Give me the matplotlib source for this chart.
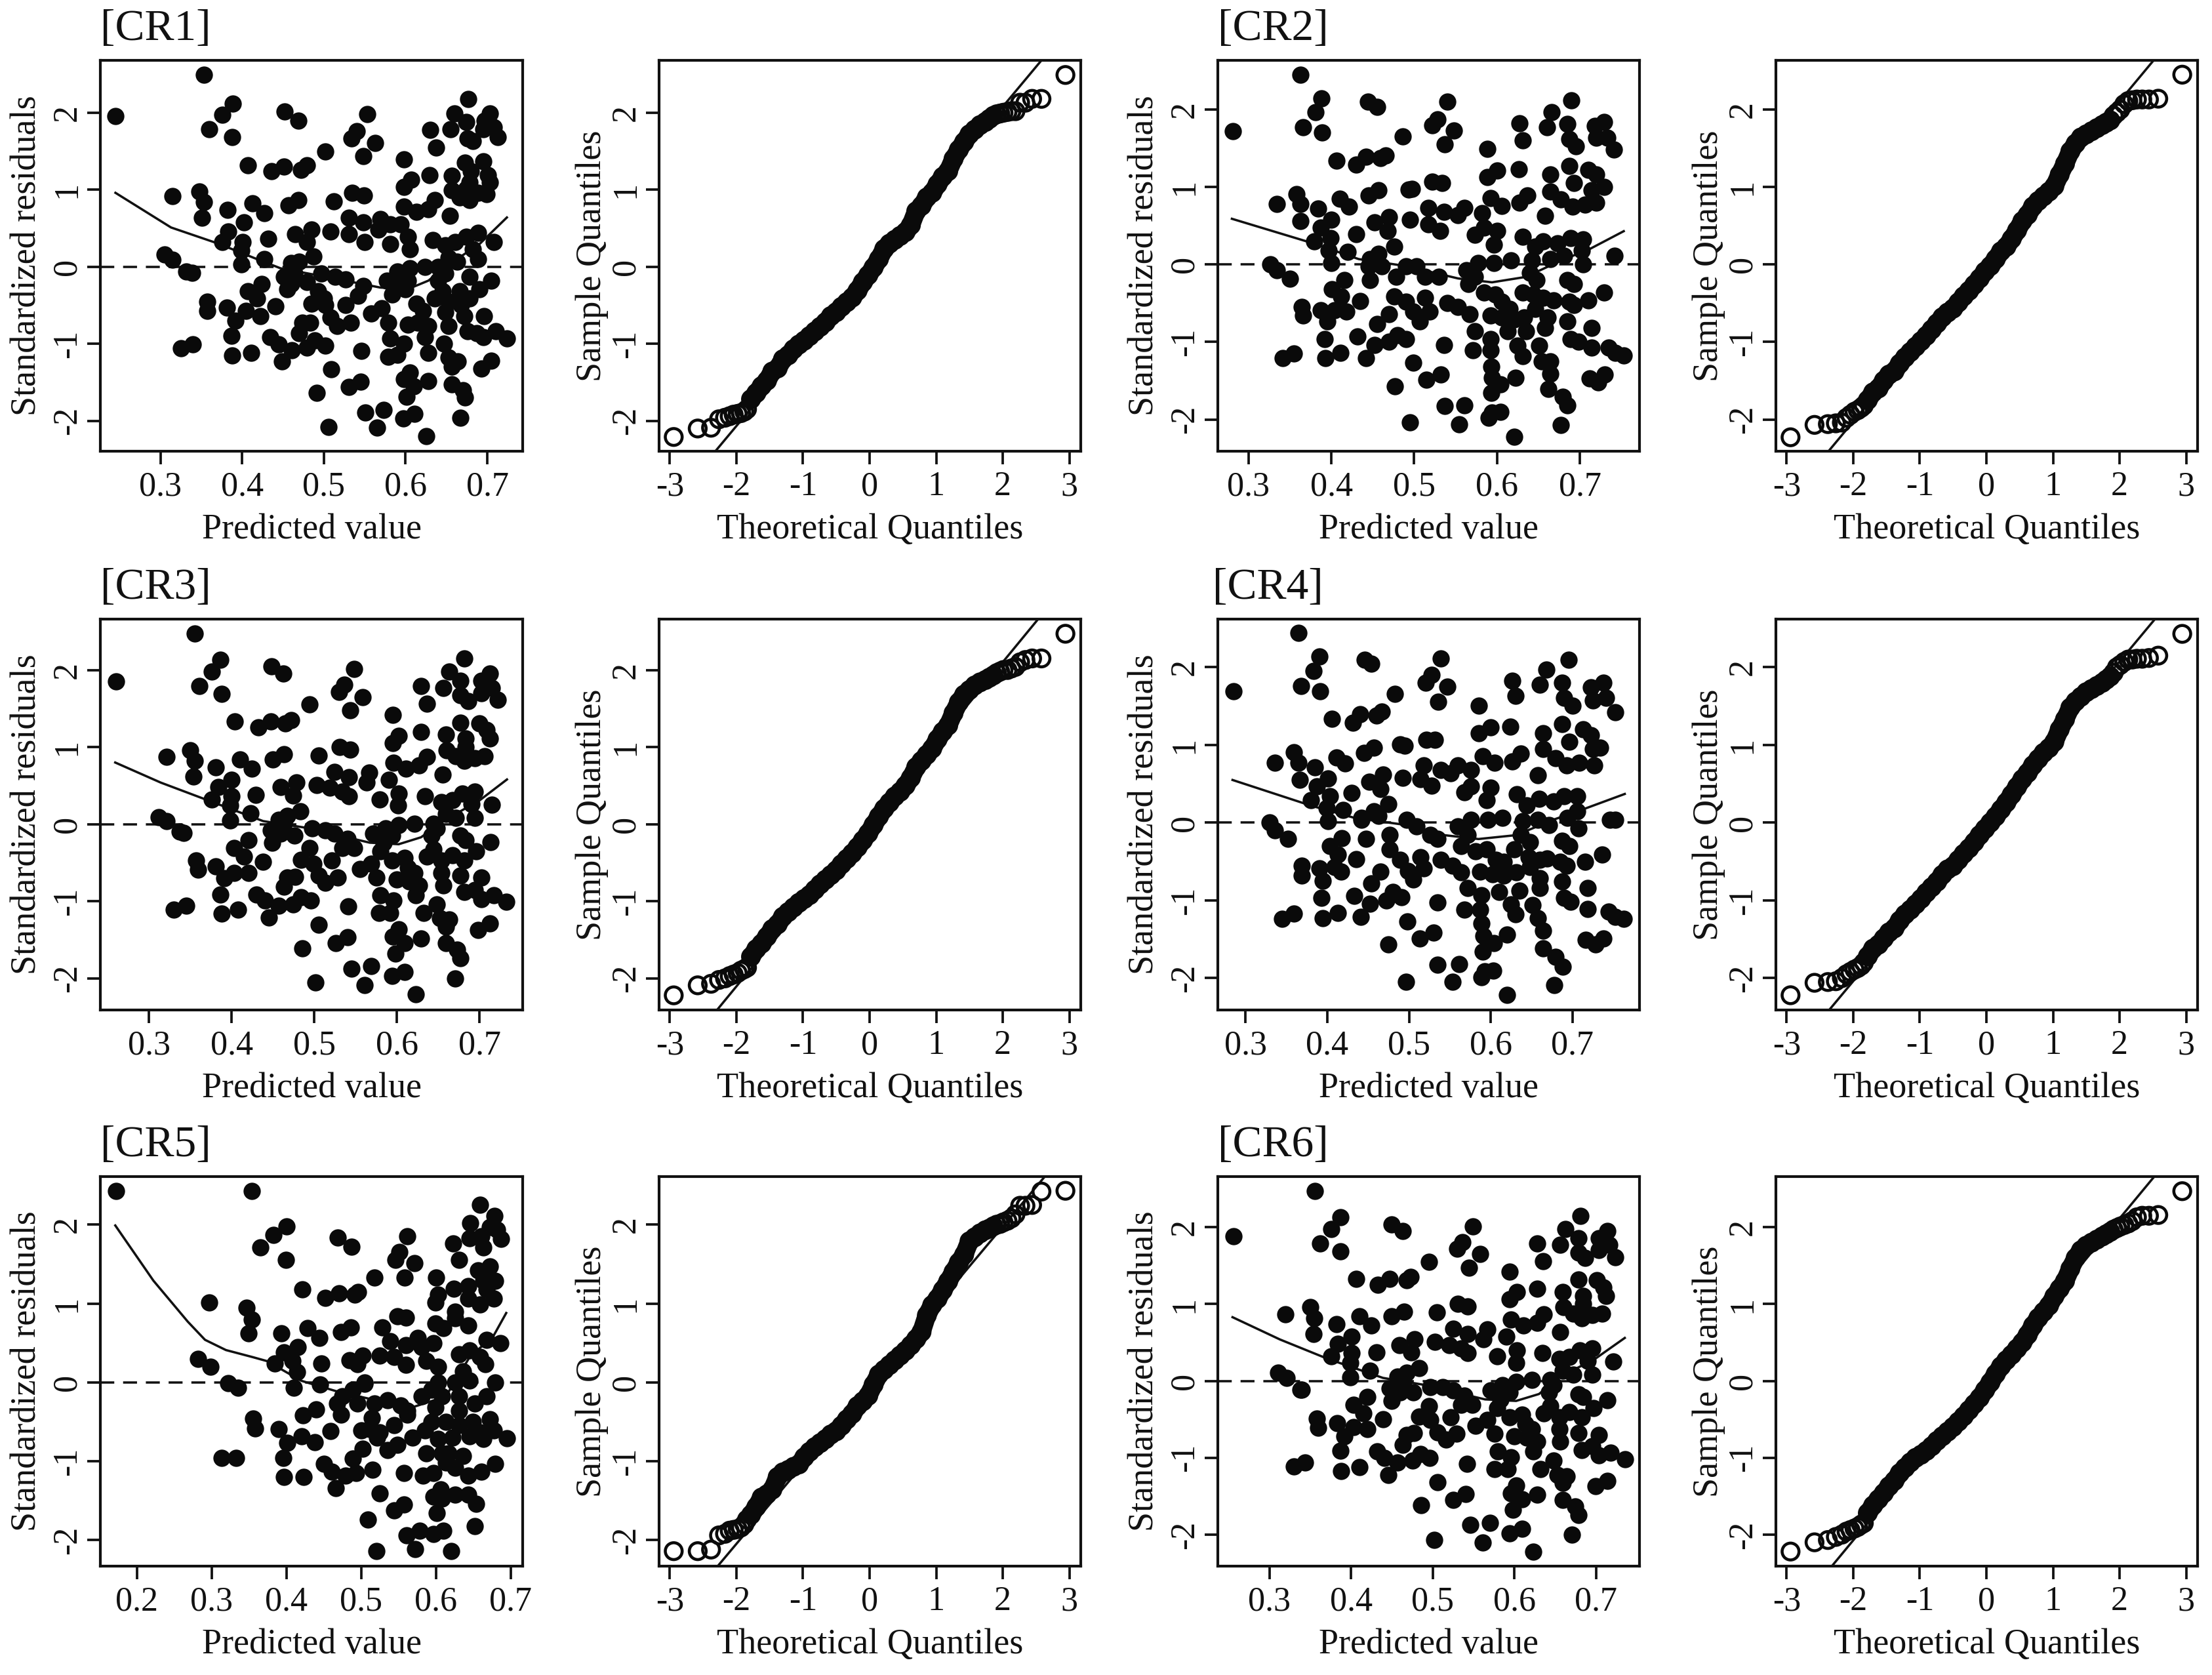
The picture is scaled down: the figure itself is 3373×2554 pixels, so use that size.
import matplotlib
matplotlib.use("Agg")
import matplotlib.pyplot as plt

plt.rcParams['font.family'] = ['Liberation Serif', 'DejaVu Serif']
plt.rcParams['axes.unicode_minus'] = False

# residuals vs predicted (predicted, residual)
cr1_pts = [(.245,1.96),(.353,2.49),(.389,2.12),(.376,1.97),(.36,1.79),(.388,1.68),(.452,2.02),(.469,1.90),(.553,1.98),(.54,1.76),
(.534,1.67),(.563,1.61),(.548,1.44),(.502,1.50),(.407,1.32),(.436,1.24),(.451,1.30),(.472,1.26),(.479,1.32),(.348,.98),
(.315,.92),(.353,.84),(.351,.64),(.382,.74),(.413,.82),(.427,.70),(.457,.80),(.469,.87),(.512,.85),(.535,.96),
(.549,.93),(.598,1.39),(.607,1.13),(.598,1.04),(.629,1.19),(.63,1.78),(.637,1.55),(.655,1.79),(.66,1.99),(.674,1.88),
(.677,2.18),(.676,1.67),(.682,1.63),(.703,1.99),(.697,1.90),(.695,1.79),(.708,1.81),(.713,1.68),(.673,1.35),(.695,1.37),
(.657,1.18),(.701,1.19),(.703,1.10),(.68,1.24),(.678,1.10),(.674,1.01),(.657,.99),(.666,.90),(.678,.87),(.699,.94),
(.689,.96),(.598,.78),(.613,.71),(.628,.75),(.636,.87),(.654,.66),(.531,.64),(.548,.58),(.569,.62),(.581,.55),
(.594,.55),(.567,.48),(.531,.42),(.508,.46),(.55,.32),(.581,.30),(.603,.39),(.605,.23),(.633,.35),(.708,.32),
(.402,.58),(.383,.46),(.485,.48),(.465,.42),(.479,.32),(.432,.36),(.376,.32),(.401,.32),(.399,.21),(.399,.03),
(.427,.10),(.487,.13),(.47,.07),(.46,.05),(.305,.16),(.315,.09),(.332,-.06),(.339,-.08),(.649,.28),(.661,.32),
(.674,.39),(.689,.44),(.682,.23),(.689,.10),(.653,.12),(.64,0),(.663,.07),(.624,0),(.605,-.02),(.59,-.06),
(.577,-.18),(.59,-.22),(.603,-.18),(.584,-.36),(.6,-.29),(.64,-.18),(.649,-.09),(.645,-.32),(.636,-.41),(.653,-.45),
(.666,-.32),(.678,-.13),(.678,-.41),(.69,-.29),(.705,-.18),(.668,-.5),(.672,-.64),(.649,-.59),(.653,-.77),(.696,-.64),
(.676,-.84),(.695,-.91),(.71,-.84),(.724,-.93),(.687,-.86),(.613,-.48),(.621,-.57),(.603,-.75),(.615,-.73),(.628,-.77),
(.579,-.73),(.581,-.93),(.598,-1),(.59,-1.14),(.579,-1.17),(.558,-.61),(.571,-.54),(.624,-.91),(.628,-1.12),(.647,-1),
(.653,-1.18),(.664,-1.23),(.657,-1.3),(.693,-1.32),(.705,-1.22),(.628,-1.48),(.598,-1.46),(.605,-1.37),(.61,-1.55),(.601,-1.69),
(.657,-1.53),(.67,-1.6),(.673,-1.70),(.667,-1.96),(.597,-1.97),(.611,-1.91),(.573,-1.86),(.551,-1.89),(.565,-2.09),(.506,-2.08),
(.625,-2.2),(.491,-1.64),(.531,-1.56),(.545,-1.49),(.509,-1.33),(.546,-1.09),(.325,-1.06),(.34,-1.01),(.387,-.9),(.388,-1.15),
(.411,-1.12),(.434,-.91),(.445,-1.01),(.449,-1.23),(.461,-1.08),(.479,-1.05),(.489,-.96),(.502,-1.02),(.47,-.86),(.474,-.73),
(.483,-.73),(.357,-.45),(.357,-.57),(.381,-.53),(.392,-.7),(.405,-.57),(.422,-.64),(.407,-.32),(.418,-.41),(.424,-.22),
(.441,-.51),(.451,-.13),(.455,-.29),(.464,-.09),(.479,-.2),(.46,-.22),(.497,-.09),(.514,-.13),(.527,-.16),(.548,-.25),
(.542,-.38),(.493,-.32),(.485,-.48),(.502,-.5),(.508,-.66),(.516,-.77),(.527,-.5),(.533,-.73),(.5,-.41)]

cr2_pts = [(.281,1.72),(.363,2.45),(.388,2.14),(.381,1.97),(.366,1.77),(.389,1.70),(.444,2.10),(.455,2.03),(.54,2.10),(.528,1.87),
(.522,1.80),(.548,1.73),(.537,1.55),(.486,1.65),(.406,1.34),(.43,1.29),(.442,1.39),(.459,1.37),(.466,1.41),(.358,.91),
(.363,.78),(.334,.78),(.363,.56),(.384,.72),(.41,.85),(.421,.75),(.445,.89),(.457,.96),(.493,.97),(.497,.98),
(.522,1.07),(.534,1.05),(.588,1.49),(.627,1.82),(.631,1.60),(.626,1.23),(.6,1.21),(.588,1.13),(.66,1.77),(.666,1.97),
(.685,1.81),(.69,2.12),(.687,1.62),(.695,1.53),(.729,1.84),(.718,1.79),(.72,1.64),(.733,1.64),(.741,1.48),(.664,1.16),
(.687,1.27),(.71,1.22),(.72,1.16),(.729,1.0),(.693,1.05),(.664,.94),(.677,.84),(.691,.75),(.706,.77),(.72,.80),
(.714,.96),(.592,.86),(.606,.76),(.627,.80),(.637,.89),(.658,.63),(.517,.73),(.536,.68),(.553,.64),(.561,.73),
(.582,.66),(.517,.52),(.531,.43),(.495,.58),(.584,.48),(.573,.38),(.6,.43),(.596,.26),(.631,.36),(.742,.11),
(.4,.58),(.387,.48),(.452,.54),(.47,.61),(.468,.43),(.43,.39),(.379,.30),(.399,.34),(.397,.18),(.4,.02),
(.42,.16),(.476,.23),(.457,.14),(.447,.07),(.326,0),(.334,-.07),(.35,-.18),(.656,.30),(.646,.23),(.673,.27),
(.689,.34),(.704,.32),(.702,.18),(.704,0),(.681,.11),(.664,.07),(.642,.05),(.617,.05),(.596,.02),(.577,.02),
(.563,-.07),(.573,-.16),(.565,-.25),(.584,-.36),(.598,-.39),(.64,-.11),(.648,-.2),(.631,-.36),(.644,-.39),(.656,-.43),
(.668,-.46),(.685,-.2),(.693,-.25),(.687,-.48),(.693,-.52),(.71,-.46),(.729,-.36),(.646,-.57),(.661,-.68),(.658,-.82),
(.685,-.73),(.714,-.82),(.689,-.96),(.698,-1),(.714,-1.07),(.735,-1.07),(.753,-1.17),(.743,-1.14),(.606,-.48),(.615,-.57),
(.592,-.66),(.606,-.68),(.621,-.71),(.633,-.68),(.613,-.86),(.635,-.86),(.573,-.86),(.592,-.96),(.571,-1.11),(.592,-1.11),
(.625,-1.05),(.631,-1.18),(.651,-1.05),(.654,-1.25),(.664,-1.25),(.664,-1.41),(.593,-1.32),(.594,-1.46),(.604,-1.55),(.593,-1.66),
(.622,-1.46),(.662,-1.61),(.679,-1.71),(.685,-1.82),(.677,-2.07),(.59,-1.98),(.604,-1.90),(.594,-1.91),(.561,-1.82),(.537,-1.83),
(.554,-2.06),(.495,-2.04),(.621,-2.22),(.477,-1.57),(.515,-1.49),(.532,-1.42),(.499,-1.27),(.536,-1.04),(.712,-1.47),(.722,-1.52),
(.73,-1.42),(.341,-1.21),(.355,-1.15),(.392,-.96),(.393,-1.21),(.411,-1.14),(.432,-.93),(.452,-1.04),(.442,-1.21),(.47,-1),
(.48,-.91),(.49,-.96),(.455,-.77),(.47,-.64),(.364,-.55),(.366,-.66),(.387,-.59),(.395,-.73),(.404,-.59),(.418,-.61),
(.401,-.32),(.416,-.2),(.412,-.41),(.435,-.47),(.445,-.02),(.447,-.2),(.461,-.02),(.478,-.16),(.476,-.41),(.49,-.02),
(.503,-.02),(.513,-.16),(.53,-.16),(.49,-.48),(.499,-.61),(.507,-.73),(.519,-.61),(.513,-.43),(.54,-.5),(.553,-.55),(.567,-.64)]

cr3_pts = [(.26,1.85),(.355,2.47),(.386,2.13),(.376,1.98),(.361,1.79),(.388,1.69),(.448,2.05),(.462,1.95),(.548,2.01),(.536,1.81),
(.53,1.72),(.558,1.65),(.543,1.48),(.494,1.55),(.404,1.33),(.432,1.26),(.447,1.33),(.465,1.31),(.472,1.35),(.35,.96),
(.355,.82),(.321,.87),(.354,.62),(.381,.74),(.41,.84),(.424,.72),(.45,.84),(.463,.91),(.505,.89),(.531,1.0),
(.543,.97),(.595,1.42),(.602,1.15),(.595,1.05),(.629,1.2),(.629,1.79),(.636,1.56),(.656,1.77),(.663,1.98),(.677,1.86),
(.681,2.15),(.677,1.67),(.686,1.6),(.712,1.95),(.702,1.86),(.702,1.7),(.715,1.77),(.722,1.61),(.677,1.32),(.7,1.31),
(.659,1.16),(.708,1.22),(.712,1.11),(.683,1.11),(.683,1.0),(.66,.96),(.671,.88),(.681,.82),(.694,.86),(.706,.88),
(.596,.8),(.611,.72),(.627,.76),(.636,.87),(.655,.64),(.524,.68),(.542,.61),(.566,.67),(.59,.58),(.563,.54),
(.519,.47),(.534,.42),(.503,.51),(.542,.36),(.579,.32),(.602,.4),(.601,.24),(.634,.36),(.715,.25),(.4,.58),
(.384,.48),(.459,.48),(.478,.54),(.474,.37),(.429,.38),(.376,.32),(.4,.36),(.398,.24),(.398,.05),(.423,.14),
(.483,.17),(.467,.11),(.457,.06),(.312,.09),(.321,.04),(.337,-.1),(.342,-.11),(.654,.29),(.667,.31),(.679,.4),
(.694,.42),(.69,.26),(.694,.08),(.659,.13),(.644,.01),(.671,.08),(.621,.01),(.602,-.01),(.586,-.05),(.571,-.12),
(.584,-.24),(.594,-.15),(.58,-.35),(.594,-.47),(.609,-.44),(.642,-.15),(.648,-.05),(.644,-.33),(.636,-.42),(.654,-.47),
(.667,-.4),(.677,-.15),(.683,-.21),(.681,-.47),(.696,-.35),(.713,-.23),(.677,-.67),(.654,-.63),(.656,-.79),(.702,-.69),
(.681,-.88),(.702,-.97),(.717,-.92),(.732,-1.01),(.694,-.85),(.613,-.56),(.621,-.63),(.6,-.72),(.615,-.74),(.627,-.79),
(.575,-.69),(.58,-.92),(.596,-.99),(.592,-1.15),(.578,-1.15),(.555,-.58),(.569,-.51),(.623,-.92),(.632,-1.15),(.648,-1.04),
(.652,-1.22),(.663,-1.24),(.659,-1.33),(.698,-1.37),(.712,-1.29),(.629,-1.48),(.595,-1.46),(.602,-1.36),(.609,-1.54),(.598,-1.68),
(.659,-1.54),(.673,-1.63),(.677,-1.74),(.67,-2.0),(.594,-1.97),(.609,-1.92),(.569,-1.84),(.545,-1.87),(.561,-2.09),(.501,-2.05),
(.623,-2.21),(.485,-1.61),(.526,-1.54),(.54,-1.47),(.505,-1.3),(.541,-1.07),(.33,-1.11),(.345,-1.06),(.386,-.91),(.388,-1.16),
(.408,-1.11),(.43,-.91),(.44,-.99),(.445,-1.21),(.457,-1.06),(.474,-1.04),(.484,-.95),(.496,-.99),(.463,-.81),(.467,-.69),
(.477,-.68),(.357,-.47),(.359,-.59),(.381,-.55),(.391,-.7),(.403,-.63),(.42,-.63),(.403,-.31),(.42,-.21),(.415,-.42),
(.438,-.49),(.447,-.08),(.449,-.24),(.463,.01),(.476,-.15),(.459,-.12),(.497,-.05),(.513,-.08),(.524,-.12),(.54,-.19),
(.548,-.31),(.494,-.31),(.484,-.46),(.499,-.51),(.505,-.67),(.513,-.76),(.521,-.47),(.528,-.69),(.534,-.31)]

cr4_pts = [(.285,1.69),(.365,2.44),(.39,2.14),(.383,1.95),(.368,1.76),(.391,1.69),(.446,2.1),(.454,2.05),(.539,2.11),(.528,1.9),
(.52,1.8),(.547,1.75),(.536,1.56),(.483,1.66),(.406,1.34),(.431,1.29),(.44,1.4),(.46,1.38),(.467,1.43),(.359,.91),
(.365,.77),(.336,.77),(.366,.55),(.385,.71),(.411,.84),(.422,.76),(.445,.9),(.457,.97),(.489,1.01),(.495,.99),
(.521,1.07),(.532,1.07),(.585,1.51),(.626,1.83),(.63,1.63),(.624,1.24),(.6,1.23),(.585,1.15),(.66,1.78),(.668,1.97),
(.687,1.8),(.695,2.1),(.69,1.61),(.7,1.51),(.738,1.8),(.723,1.74),(.725,1.57),(.741,1.61),(.752,1.42),(.664,1.15),
(.687,1.27),(.713,1.2),(.723,1.13),(.734,.97),(.696,1.04),(.664,.95),(.679,.83),(.693,.74),(.708,.77),(.727,.74),
(.725,.95),(.59,.86),(.605,.77),(.626,.79),(.637,.89),(.658,.61),(.518,.74),(.539,.68),(.551,.64),(.56,.74),
(.576,.68),(.514,.56),(.528,.48),(.492,.58),(.576,.47),(.568,.39),(.6,.45),(.595,.29),(.632,.37),(.746,.04),
(.752,.04),(.401,.57),(.387,.47),(.451,.53),(.468,.62),(.465,.43),(.43,.38),(.38,.29),(.403,.34),(.399,.19),
(.401,.02),(.419,.16),(.475,.24),(.457,.15),(.442,.06),(.329,0),(.336,-.1),(.352,-.21),(.659,.31),(.644,.22),
(.677,.27),(.69,.34),(.706,.34),(.706,.15),(.707,-.07),(.694,.06),(.671,-.03),(.658,.04),(.639,.02),(.614,.06),
(.597,.04),(.576,.04),(.56,-.05),(.572,-.16),(.564,-.3),(.581,-.37),(.595,-.34),(.637,-.16),(.648,-.25),(.629,-.34),
(.646,-.44),(.66,-.48),(.669,-.46),(.687,-.23),(.696,-.3),(.685,-.5),(.693,-.55),(.715,-.5),(.736,-.41),(.648,-.57),
(.66,-.71),(.66,-.84),(.687,-.76),(.719,-.84),(.69,-.97),(.698,-1.02),(.719,-1.11),(.744,-1.14),(.763,-1.24),(.752,-1.21),
(.606,-.48),(.616,-.5),(.587,-.63),(.602,-.66),(.616,-.68),(.631,-.64),(.61,-.89),(.635,-.87),(.572,-.84),(.589,-.93),
(.568,-1.12),(.587,-1.12),(.625,-1.05),(.63,-1.18),(.651,-1.06),(.658,-1.23),(.664,-1.39),(.589,-1.3),(.591,-1.46),(.604,-1.55),
(.59,-1.66),(.62,-1.44),(.664,-1.62),(.679,-1.73),(.688,-1.85),(.678,-2.09),(.589,-1.99),(.603,-1.9),(.593,-1.91),(.561,-1.82),
(.535,-1.83),(.553,-2.05),(.496,-2.05),(.62,-2.22),(.475,-1.57),(.513,-1.49),(.53,-1.41),(.498,-1.27),(.535,-1.03),(.716,-1.51),
(.728,-1.57),(.738,-1.49),(.345,-1.24),(.359,-1.17),(.393,-.97),(.394,-1.23),(.413,-1.16),(.433,-.94),(.452,-1.04),(.441,-1.21),
(.472,-1),(.48,-.89),(.491,-.96),(.454,-.78),(.465,-.63),(.369,-.55),(.369,-.68),(.39,-.59),(.394,-.75),(.409,-.57),
(.417,-.63),(.403,-.3),(.418,-.2),(.413,-.41),(.435,-.47),(.442,.04),(.447,-.21),(.463,.09),(.476,-.16),(.476,-.34),
(.497,.04),(.509,-.05),(.526,-.16),(.535,-.21),(.489,-.48),(.499,-.62),(.505,-.73),(.518,-.59),(.514,-.44),(.539,-.48),(.553,-.55),(.564,-.64)]

cr5_pts = [(.172,2.43),(.354,2.43),(.4,1.98),(.383,1.87),(.365,1.71),(.399,1.55),(.469,1.84),(.487,1.72),(.562,1.85),(.551,1.65),
(.546,1.55),(.571,1.51),(.558,1.33),(.518,1.33),(.421,1.18),(.452,1.07),(.47,1.13),(.491,1.11),(.496,1.15),(.347,.95),
(.354,.8),(.297,1.01),(.349,.62),(.393,.62),(.428,.69),(.444,.56),(.473,.64),(.486,.7),(.528,.7),(.548,.84),
(.56,.82),(.6,1.33),(.603,1.11),(.599,1.01),(.624,1.19),(.623,1.76),(.631,1.55),(.646,2.02),(.659,2.25),(.645,1.83),
(.661,1.85),(.663,1.71),(.678,2.11),(.672,1.97),(.682,1.94),(.687,1.82),(.656,1.42),(.672,1.47),(.679,1.29),(.643,1.22),
(.663,1.29),(.643,1.06),(.659,.99),(.677,1.06),(.668,1.18),(.626,.9),(.599,.75),(.61,.69),(.626,.81),(.643,.72),
(.576,.56),(.539,.52),(.56,.47),(.597,.5),(.525,.34),(.502,.34),(.484,.28),(.544,.32),(.56,.22),(.581,.45),
(.587,.27),(.603,.2),(.686,.5),(.668,.54),(.397,.38),(.415,.45),(.384,.24),(.447,.24),(.408,.27),(.414,.13),
(.41,-.07),(.495,.23),(.505,-.02),(.282,.3),(.298,.2),(.322,-.01),(.335,-.07),(.445,-.03),(.631,.36),(.645,.41),
(.659,.32),(.666,.23),(.636,.14),(.626,0),(.645,.02),(.603,0),(.679,0),(.668,-.18),(.652,-.27),(.631,-.18),
(.631,-.36),(.594,-.09),(.581,-.18),(.608,-.18),(.599,-.32),(.594,-.5),(.613,-.5),(.631,-.54),(.649,-.5),(.672,-.47),
(.659,-.63),(.677,-.61),(.695,-.71),(.663,-.72),(.645,-.68),(.622,-.7),(.569,-.7),(.585,-.61),(.603,-.72),(.617,-.9),
(.636,-.93),(.587,-.9),(.608,-.9),(.626,-1.08),(.643,-1.18),(.613,-1.02),(.661,-1.13),(.679,-1.03),(.583,-1.18),(.597,-1.15),
(.557,-1.15),(.606,-1.36),(.597,-1.45),(.608,-1.47),(.626,-1.42),(.643,-1.42),(.654,-1.54),(.601,-1.66),(.652,-1.82),(.61,-1.88),
(.597,-1.92),(.578,-1.88),(.561,-1.94),(.572,-2.11),(.62,-2.14),(.52,-2.14),(.509,-1.74),(.525,-1.41),(.544,-1.62),(.557,-1.55),
(.466,-1.34),(.313,-.96),(.333,-.96),(.396,-.96),(.397,-1.2),(.423,-1.2),(.45,-1.03),(.461,-1.13),(.479,-1.18),(.493,-1.15),
(.489,-.97),(.502,-.84),(.515,-1.11),(.535,-.86),(.548,-.79),(.521,-.7),(.5,-.61),(.355,-.46),(.358,-.58),(.39,-.59),
(.401,-.77),(.42,-.68),(.438,-.76),(.422,-.42),(.44,-.34),(.459,-.62),(.468,-.27),(.475,-.18),(.489,-.09),(.505,0),
(.473,-.41),(.495,-.27),(.518,-.27),(.535,-.23),(.553,-.29),(.562,-.41),(.514,-.45),(.525,-.63),(.544,-.54),(.512,-.59),(.562,-.36)]

cr6_pts = [(.256,1.88),(.356,2.47),(.387,2.13),(.376,1.98),(.362,1.79),(.387,1.69),(.45,2.04),(.463,1.95),(.549,2.01),(.536,1.81),
(.53,1.72),(.558,1.65),(.544,1.47),(.495,1.55),(.406,1.33),(.433,1.25),(.447,1.33),(.468,1.31),(.473,1.35),(.35,.96),
(.355,.82),(.32,.87),(.354,.61),(.382,.74),(.41,.84),(.425,.72),(.45,.84),(.465,.9),(.505,.89),(.531,1.0),
(.543,.97),(.594,1.42),(.603,1.16),(.594,1.06),(.628,1.2),(.628,1.79),(.635,1.56),(.656,1.77),(.662,1.98),(.678,1.86),
(.681,2.15),(.678,1.67),(.686,1.6),(.714,1.95),(.703,1.86),(.703,1.7),(.716,1.77),(.723,1.61),(.678,1.32),(.701,1.31),
(.659,1.16),(.709,1.22),(.712,1.11),(.684,1.11),(.684,1.0),(.66,.96),(.672,.88),(.682,.82),(.695,.86),(.707,.88),
(.596,.8),(.611,.72),(.628,.76),(.636,.87),(.656,.64),(.525,.68),(.543,.61),(.567,.67),(.59,.58),(.562,.54),
(.52,.47),(.535,.42),(.503,.51),(.543,.36),(.579,.32),(.603,.4),(.602,.24),(.634,.36),(.721,.25),(.401,.58),
(.384,.48),(.459,.47),(.478,.54),(.474,.37),(.431,.37),(.376,.32),(.401,.36),(.399,.24),(.399,.05),(.423,.13),
(.483,.17),(.468,.11),(.457,.06),(.311,.11),(.321,.04),(.338,-.11),(.34,-.11),(.655,.29),(.667,.31),(.68,.4),
(.695,.42),(.69,.26),(.695,.08),(.659,.13),(.644,.01),(.672,.08),(.621,.01),(.602,-.01),(.585,-.05),(.571,-.12),
(.583,-.24),(.594,-.15),(.579,-.35),(.594,-.47),(.609,-.44),(.642,-.15),(.648,-.05),(.644,-.33),(.636,-.42),(.655,-.47),
(.667,-.4),(.678,-.17),(.684,-.21),(.682,-.47),(.697,-.35),(.714,-.25),(.678,-.68),(.655,-.63),(.656,-.79),(.703,-.7),
(.682,-.9),(.703,-.97),(.718,-.93),(.735,-1.02),(.695,-.85),(.613,-.56),(.621,-.63),(.6,-.72),(.615,-.74),(.628,-.79),
(.576,-.69),(.58,-.92),(.596,-.99),(.592,-1.15),(.576,-1.15),(.552,-.58),(.567,-.51),(.623,-.92),(.632,-1.15),(.648,-1.04),
(.653,-1.22),(.664,-1.24),(.659,-1.33),(.699,-1.37),(.714,-1.3),(.628,-1.48),(.596,-1.46),(.602,-1.36),(.609,-1.54),(.598,-1.68),
(.659,-1.55),(.674,-1.63),(.678,-1.74),(.67,-2.0),(.594,-1.98),(.609,-1.92),(.57,-1.85),(.546,-1.87),(.561,-2.1),(.502,-2.07),
(.623,-2.22),(.486,-1.62),(.525,-1.55),(.54,-1.47),(.506,-1.32),(.542,-1.08),(.33,-1.11),(.344,-1.06),(.387,-.91),(.388,-1.17),
(.41,-1.12),(.432,-.92),(.441,-1),(.446,-1.22),(.457,-1.06),(.475,-1.04),(.485,-.95),(.496,-1),(.463,-.83),(.468,-.7),
(.477,-.68),(.358,-.49),(.36,-.61),(.383,-.55),(.392,-.72),(.403,-.6),(.42,-.63),(.403,-.31),(.42,-.21),(.415,-.42),
(.439,-.5),(.447,-.1),(.45,-.26),(.464,-.01),(.476,-.15),(.46,-.15),(.497,-.08),(.512,-.08),(.525,-.12),(.539,-.19),
(.548,-.31),(.495,-.33),(.483,-.46),(.497,-.51),(.506,-.67),(.516,-.76),(.522,-.47),(.529,-.69),(.535,-.31)]

# smoother through the residuals
cr1_smooth = [(.245,.96),(.313,.51),(.371,.30),(.418,.10),(.447,-.02),(.502,-.13),(.569,-.27),(.603,-.29),(.628,-.18),(.649,0),(.691,.30),(.724,.64)]
cr2_smooth = [(.28,.59),(.379,.27),(.433,.07),(.49,-.02),(.553,-.18),(.594,-.23),(.635,-.16),(.677,.05),(.712,.2),(.753,.43)]
cr3_smooth = [(.259,.8),(.314,.54),(.376,.29),(.438,.04),(.492,-.05),(.567,-.24),(.602,-.26),(.629,-.17),(.659,.06),(.7,.31),(.733,.58)]
cr4_smooth = [(.284,.55),(.38,.22),(.434,.06),(.497,-.03),(.543,-.16),(.585,-.21),(.631,-.16),(.677,.04),(.715,.18),(.764,.37)]
cr5_smooth = [(.171,1.99),(.222,1.29),(.268,.77),(.291,.54),(.319,.41),(.355,.32),(.374,.27),(.42,.02),(.466,-.11),(.521,-.23),(.567,-.32),(.613,-.18),(.645,.32),(.677,.59),(.694,.88)]
cr6_smooth = [(.255,.83),(.313,.54),(.371,.29),(.439,.04),(.489,-.05),(.564,-.24),(.602,-.26),(.63,-.17),(.657,.06),(.699,.29),(.735,.56)]

# QQ panels share the theoretical quantiles
theo_q = [-2.94,-2.58,-2.38,-2.26,-2.17,-2.10,-2.04,-1.98,-1.93,-1.88,
          -1.84,-1.78,-1.70,-1.62,-1.54,-1.46,-1.38,-1.30,-1.22,-1.14,
          -1.06,-.98,-.90,-.82,-.74,-.66,-.58,-.50,-.42,-.34,
          -.26,-.18,-.10,-.02,.06,.14,.22,.30,.38,.46,
          .54,.62,.70,.78,.86,.94,1.02,1.10,1.18,1.26,
          1.34,1.42,1.50,1.58,1.66,1.74,1.80,1.86,1.91,1.96,
          2.01,2.07,2.13,2.19,2.26,2.34,2.44,2.58,2.94]
cr1_q = [-2.21,-2.10,-2.09,-1.98,-1.96,-1.94,-1.92,-1.91,-1.90,-1.88,
         -1.85,-1.72,-1.64,-1.55,-1.48,-1.36,-1.32,-1.20,-1.15,-1.07,
         -1.01,-.96,-.90,-.84,-.78,-.72,-.64,-.59,-.52,-.46,
         -.40,-.31,-.20,-.11,-.01,.10,.23,.30,.35,.40,
         .45,.54,.72,.79,.90,.96,1.07,1.17,1.24,1.40,
         1.52,1.62,1.72,1.78,1.84,1.88,1.92,1.96,1.98,1.99,
         2.00,2.01,2.02,2.02,2.13,2.13,2.18,2.18,2.49]
cr2_q = [-2.23,-2.07,-2.06,-2.05,-2.04,-1.98,-1.94,-1.90,-1.88,-1.85,
         -1.82,-1.75,-1.65,-1.60,-1.50,-1.42,-1.38,-1.28,-1.20,-1.13,
         -1.06,-.99,-.92,-.84,-.76,-.68,-.62,-.57,-.49,-.41,
         -.34,-.26,-.18,-.09,-.02,.07,.17,.23,.33,.44,
         .56,.64,.75,.82,.88,.94,1.01,1.16,1.30,1.46,
         1.56,1.64,1.68,1.72,1.76,1.80,1.83,1.86,1.92,1.96,
         2.0,2.07,2.11,2.12,2.13,2.13,2.13,2.14,2.45]
cr3_q = [-2.22,-2.09,-2.07,-2.02,-2.0,-1.97,-1.95,-1.93,-1.90,-1.88,
         -1.86,-1.72,-1.62,-1.55,-1.46,-1.36,-1.30,-1.20,-1.14,-1.08,
         -1.02,-.97,-.92,-.85,-.78,-.72,-.66,-.60,-.52,-.45,
         -.38,-.30,-.21,-.12,-.01,.10,.20,.28,.36,.42,
         .50,.60,.74,.82,.90,.98,1.10,1.20,1.28,1.44,
         1.58,1.68,1.74,1.80,1.84,1.87,1.90,1.93,1.96,1.98,
         2.0,2.0,2.02,2.04,2.10,2.13,2.15,2.15,2.47]
cr4_q = [-2.22,-2.06,-2.05,-2.04,-2.0,-1.95,-1.92,-1.89,-1.87,-1.84,
         -1.80,-1.72,-1.62,-1.57,-1.49,-1.41,-1.36,-1.26,-1.18,-1.12,
         -1.05,-.98,-.90,-.83,-.76,-.67,-.60,-.56,-.48,-.40,
         -.33,-.25,-.16,-.08,0,.08,.17,.26,.36,.46,
         .56,.64,.74,.82,.90,.96,1.04,1.20,1.33,1.48,
         1.56,1.62,1.68,1.72,1.76,1.80,1.84,1.88,1.93,2.0,
         2.03,2.07,2.10,2.10,2.11,2.11,2.12,2.15,2.43]
cr5_q = [-2.14,-2.14,-2.12,-1.94,-1.92,-1.88,-1.87,-1.86,-1.84,-1.80,
         -1.74,-1.68,-1.58,-1.46,-1.42,-1.36,-1.20,-1.14,-1.11,-1.07,
         -1.04,-.95,-.88,-.82,-.77,-.72,-.66,-.62,-.55,-.47,
         -.40,-.30,-.24,-.17,-.03,.10,.16,.22,.28,.34,
         .40,.47,.55,.64,.85,.98,1.06,1.17,1.28,1.40,
         1.52,1.62,1.79,1.84,1.89,1.93,1.95,1.98,2.0,2.01,
         2.03,2.05,2.08,2.13,2.24,2.24,2.25,2.42,2.43]
cr6_q = [-2.22,-2.10,-2.07,-2.03,-2.0,-1.96,-1.94,-1.92,-1.90,-1.87,
         -1.85,-1.72,-1.62,-1.54,-1.46,-1.37,-1.30,-1.20,-1.13,-1.06,
         -1.0,-.96,-.91,-.85,-.78,-.72,-.66,-.60,-.53,-.46,
         -.38,-.30,-.22,-.12,-.02,.09,.19,.27,.34,.42,
         .50,.60,.72,.82,.90,.98,1.10,1.20,1.30,1.46,
         1.60,1.70,1.76,1.80,1.84,1.88,1.91,1.94,1.97,1.99,
         2.01,2.03,2.05,2.08,2.13,2.15,2.15,2.16,2.47]

# reference line of each QQ panel, two ends
cr1_qqline = ([-2.31,2.58],[-2.39,2.68])
cr2_qqline = ([-2.37,2.51],[-2.41,2.635])
cr3_qqline = ([-2.29,2.53],[-2.41,2.66])
cr4_qqline = ([-2.36,2.53],[-2.41,2.62])
cr5_qqline = ([-2.26,2.63],[-2.31,2.61])
cr6_qqline = ([-2.32,2.52],[-2.41,2.66])

labels = ['[CR1]','[CR2]','[CR3]','[CR4]','[CR5]','[CR6]']
all_pts = [cr1_pts,cr2_pts,cr3_pts,cr4_pts,cr5_pts,cr6_pts]
all_smooth = [cr1_smooth,cr2_smooth,cr3_smooth,cr4_smooth,cr5_smooth,cr6_smooth]
all_q = [cr1_q,cr2_q,cr3_q,cr4_q,cr5_q,cr6_q]
all_qqline = [cr1_qqline,cr2_qqline,cr3_qqline,cr4_qqline,cr5_qqline,cr6_qqline]
pred_lims = [(.2265,.7433),(.263,.772),(.241,.752),(.266,.782),(.151,.716),(.237,.753)]
resid_lims = [(-2.395,2.68),(-2.41,2.635),(-2.41,2.66),(-2.41,2.62),(-2.33,2.61),(-2.41,2.66)]
pred_ticks = [.3,.4,.5,.6,.7]
pred_ticks_cr5 = [.2,.3,.4,.5,.6,.7]
resid_ticks = [-2,-1,0,1,2]
qq_ticks = [-3,-2,-1,0,1,2,3]

W, H = 3373, 2554
col_x = [(153,797),(1005,1648),(1857,2500),(2708,3351)]
row_y = [(92,688),(944,1540),(1794,2388)]
title_shift = [0,0,0,-8,0,0]


def new_axes(col, row):
    x0, x1 = col_x[col]
    y0, y1 = row_y[row]
    ax = fig.add_axes([x0/W, 1-y1/H, (x1-x0)/W, (y1-y0)/H])
    for s in ax.spines.values():
        s.set_linewidth(1.0)
        s.set_color('#111111')
    ax.tick_params(length=4.8, width=.9, labelsize=12.5, color='#111111', labelcolor='#111111', pad=2.5)
    ax.tick_params(axis='y', labelrotation=90, pad=1.5)
    ax.set_facecolor('white')
    return ax, x1-x0, y1-y0


def finish(ax, w, h, xlabel, ylabel, ylab_off):
    for t in ax.get_yticklabels():
        t.set_va('center')
    ax.set_xlabel(xlabel, fontsize=13, color='#111111', va='center')
    ax.set_ylabel(ylabel, fontsize=13, color='#111111', va='center')
    ax.xaxis.set_label_coords(.5, -120/h)
    ax.yaxis.set_label_coords(-ylab_off/w, .5)


fig = plt.figure(figsize=(W/300, H/300), dpi=300)

for i in range(6):
    row = i // 2
    c = (i % 2) * 2

    # residuals vs predicted
    ax, w, h = new_axes(c, row)
    px = [p[0] for p in all_pts[i]]
    py = [p[1] for p in all_pts[i]]
    ax.plot([p[0] for p in all_smooth[i]], [p[1] for p in all_smooth[i]], color='#111111', lw=.85)
    ax.axhline(0, color='#111111', lw=.85, dashes=(6, 3.8))
    ax.scatter(px, py, s=40, color='#0a0a0a', linewidths=0, zorder=3)
    ax.set_xlim(*pred_lims[i])
    ax.set_ylim(*resid_lims[i])
    ax.set_xticks(pred_ticks_cr5 if i == 4 else pred_ticks)
    ax.set_xticklabels(['%.1f' % t for t in (pred_ticks_cr5 if i == 4 else pred_ticks)])
    ax.set_yticks(resid_ticks)
    finish(ax, w, h, 'Predicted value', 'Standardized residuals', 112)
    ax.text(title_shift[i]/w, 1+47/h, labels[i], transform=ax.transAxes, fontsize=16.2,
            ha='left', va='center', color='#111111')

    # normal QQ, the circles overlap to a solid band in the middle
    ax, w, h = new_axes(c+1, row)
    ax.plot(all_qqline[i][0], all_qqline[i][1], color='#111111', lw=.85)
    ax.plot(theo_q[11:58], all_q[i][11:58], color='#0a0a0a', lw=6.8, solid_capstyle='round', zorder=3)
    ax.scatter(theo_q, all_q[i], s=38, facecolors='none', edgecolors='#0a0a0a', linewidths=1.1, zorder=3)
    ax.set_xlim(-3.16, 3.17)
    ax.set_ylim(*resid_lims[i])
    ax.set_xticks(qq_ticks)
    ax.set_yticks(resid_ticks)
    finish(ax, w, h, 'Theoretical Quantiles', 'Sample Quantiles', 102)

fig.savefig('out.png', dpi=300, facecolor='white')
